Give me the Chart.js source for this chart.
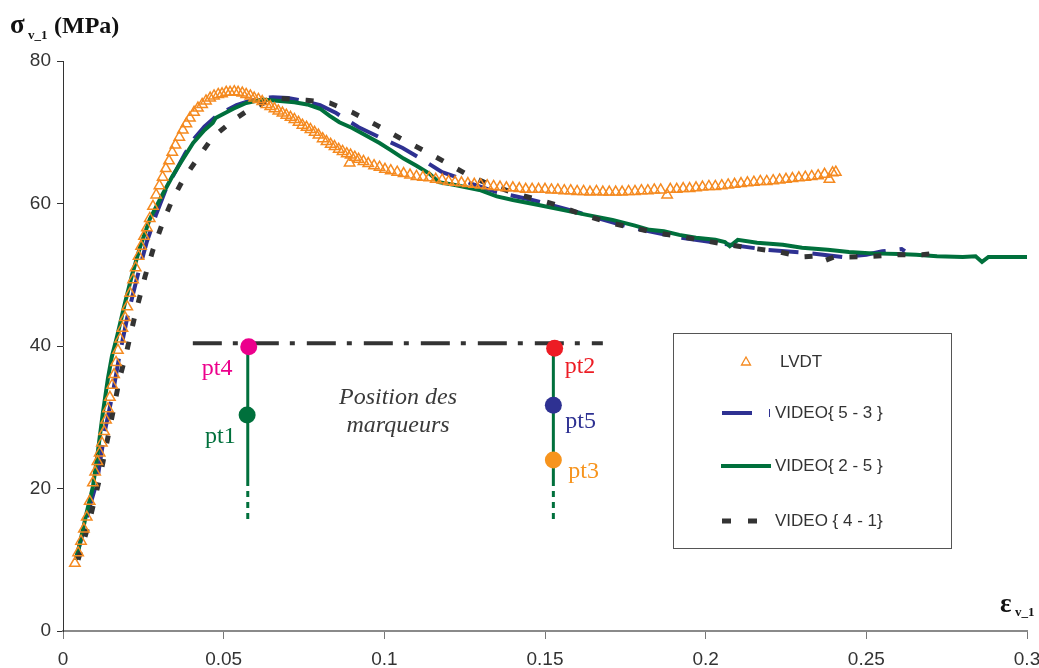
<!DOCTYPE html>
<html>
<head>
<meta charset="utf-8">
<script src="https://cdn.jsdelivr.net/npm/chart.js@4.4.1/dist/chart.umd.min.js"></script>
<style>html,body{margin:0;padding:0;background:#fff;overflow:hidden}</style>
</head>
<body>
<canvas id="chart" width="1039" height="668"></canvas>
<script>
// values
const xTicks = [0, 0.05, 0.1, 0.15, 0.2, 0.25, 0.3];
const xTickLabels = ["0", "0.05", "0.1", "0.15", "0.2", "0.25", "0.3"];
const yTicks = [0, 20, 40, 60, 80];
const legendLabels = ["LVDT", "VIDEO{ 5 - 3 }", "VIDEO{ 2 - 5 }", "VIDEO { 4 - 1}"];

const lvdt = [[0.0037,9.5],[0.0047,11.0],[0.0056,12.6],[0.0065,14.3],[0.0074,16.0],[0.0083,18.2],[0.0093,20.8],[0.0100,22.3],[0.0107,23.8],[0.0114,25.0],[0.0121,26.4],[0.0128,28.0],[0.0134,29.6],[0.0140,31.2],[0.0146,32.8],[0.0153,34.5],[0.0159,36.0],[0.0165,37.7],[0.0171,39.4],[0.0178,41.0],[0.0185,42.5],[0.0193,44.0],[0.0200,45.5],[0.0209,47.4],[0.0218,49.3],[0.0226,51.0],[0.0235,52.6],[0.0243,54.0],[0.0252,55.4],[0.0261,56.6],[0.0270,57.9],[0.0280,59.6],[0.0290,61.2],[0.0300,62.5],[0.0310,63.7],[0.0320,64.9],[0.0330,66.0],[0.0340,67.2],[0.0350,68.2],[0.0362,69.3],[0.0373,70.3],[0.0384,71.2],[0.0395,72.0],[0.0408,72.8],[0.0420,73.4],[0.0433,73.9],[0.0445,74.4],[0.0458,74.8],[0.0470,75.1],[0.0483,75.3],[0.0495,75.4],[0.0508,75.6],[0.0520,75.6],[0.0533,75.7],[0.0545,75.6],[0.0558,75.5],[0.0570,75.3],[0.0583,75.1],[0.0595,74.8],[0.0608,74.6],[0.0620,74.3],[0.0633,73.9],[0.0645,73.6],[0.0658,73.3],[0.0670,73.0],[0.0683,72.7],[0.0695,72.4],[0.0708,72.1],[0.0720,71.8],[0.0733,71.4],[0.0745,71.0],[0.0758,70.7],[0.0770,70.4],[0.0783,70.0],[0.0795,69.6],[0.0808,69.1],[0.0820,68.7],[0.0833,68.3],[0.0845,68.0],[0.0858,67.6],[0.0870,67.3],[0.0883,67.0],[0.0892,65.7],[0.0895,66.8],[0.0908,66.5],[0.0920,66.2],[0.0935,65.9],[0.0950,65.6],[0.0968,65.3],[0.0985,65.1],[0.1002,64.8],[0.1020,64.6],[0.1040,64.4],[0.1060,64.2],[0.1080,64.0],[0.1100,63.8],[0.1120,63.7],[0.1140,63.6],[0.1160,63.4],[0.1180,63.3],[0.1200,63.1],[0.1220,63.0],[0.1240,62.9],[0.1260,62.8],[0.1280,62.7],[0.1300,62.6],[0.1320,62.5],[0.1340,62.4],[0.1360,62.3],[0.1380,62.2],[0.1400,62.2],[0.1420,62.1],[0.1440,62.0],[0.1460,62.0],[0.1480,62.0],[0.1500,62.0],[0.1520,61.9],[0.1540,61.9],[0.1560,61.8],[0.1580,61.8],[0.1600,61.7],[0.1620,61.7],[0.1640,61.6],[0.1660,61.7],[0.1680,61.6],[0.1700,61.6],[0.1720,61.6],[0.1740,61.6],[0.1760,61.7],[0.1780,61.7],[0.1800,61.8],[0.1820,61.8],[0.1840,61.9],[0.1860,61.9],[0.1880,61.2],[0.1890,62.0],[0.1910,62.0],[0.1930,62.1],[0.1950,62.1],[0.1970,62.2],[0.1990,62.3],[0.2010,62.4],[0.2030,62.4],[0.2050,62.5],[0.2070,62.6],[0.2090,62.7],[0.2110,62.8],[0.2130,62.9],[0.2150,63.0],[0.2170,63.1],[0.2190,63.1],[0.2210,63.2],[0.2230,63.3],[0.2250,63.4],[0.2270,63.5],[0.2290,63.6],[0.2310,63.7],[0.2330,63.8],[0.2350,63.9],[0.2370,64.1],[0.2385,63.4],[0.2395,64.3],[0.2405,64.4]];

const video53 = [[0.0040,10.0],[0.0060,13.5],[0.0080,17.0],[0.0106,21.0],[0.0130,28.0],[0.0155,33.4],[0.0175,38.5],[0.0200,44.0],[0.0230,49.5],[0.0260,54.5],[0.0290,58.5],[0.0320,62.0],[0.0350,64.5],[0.0380,67.0],[0.0410,69.2],[0.0440,70.8],[0.0470,72.0],[0.0500,72.9],[0.0540,73.8],[0.0580,74.4],[0.0620,74.8],[0.0653,74.9],[0.0700,74.8],[0.0750,74.4],[0.0800,73.8],[0.0850,72.7],[0.0920,70.7],[0.0985,69.3],[0.1057,67.8],[0.1120,66.1],[0.1180,64.4],[0.1225,63.7],[0.1270,62.8],[0.1350,61.6],[0.1460,60.5],[0.1607,58.7],[0.1760,56.7],[0.1877,55.6],[0.1910,55.3],[0.2030,54.5],[0.2190,53.5],[0.2310,53.1],[0.2425,52.5],[0.2500,52.8],[0.2550,53.3],[0.2610,53.6],[0.2620,53.3]];

const video25 = [[0.0040,10.0],[0.0053,12.4],[0.0073,16.5],[0.0093,20.2],[0.0108,25.0],[0.0124,30.6],[0.0140,35.5],[0.0152,38.5],[0.0168,41.3],[0.0190,45.5],[0.0215,50.0],[0.0240,53.9],[0.0270,57.8],[0.0310,61.3],[0.0340,63.8],[0.0370,66.0],[0.0405,68.5],[0.0440,70.3],[0.0466,71.3],[0.0475,72.0],[0.0500,72.6],[0.0530,73.3],[0.0570,74.1],[0.0620,74.6],[0.0675,74.4],[0.0720,74.2],[0.0760,73.9],[0.0800,73.3],[0.0830,72.3],[0.0860,71.4],[0.0900,70.6],[0.0940,69.6],[0.0985,68.5],[0.1020,67.5],[0.1060,66.3],[0.1100,65.3],[0.1140,64.2],[0.1170,63.0],[0.1220,62.6],[0.1296,61.9],[0.1350,61.0],[0.1400,60.5],[0.1480,59.8],[0.1554,59.1],[0.1630,58.4],[0.1710,57.7],[0.1780,56.9],[0.1825,56.3],[0.1870,56.1],[0.1918,55.6],[0.1970,55.2],[0.2030,54.9],[0.2060,54.6],[0.2075,54.0],[0.2100,54.9],[0.2160,54.5],[0.2240,54.2],[0.2300,53.8],[0.2380,53.5],[0.2446,53.2],[0.2520,53.0],[0.2600,52.9],[0.2655,52.8],[0.2720,52.6],[0.2800,52.5],[0.2840,52.6],[0.2860,51.8],[0.2880,52.5],[0.2950,52.5],[0.3000,52.5]];

const video41 = [[0.0047,10.0],[0.0080,15.0],[0.0115,21.6],[0.0146,28.6],[0.0177,35.6],[0.0199,39.4],[0.0225,44.5],[0.0255,49.7],[0.0280,53.5],[0.0310,57.3],[0.0340,60.5],[0.0373,63.3],[0.0420,66.4],[0.0466,69.3],[0.0530,71.7],[0.0590,73.5],[0.0665,74.8],[0.0758,74.5],[0.0830,74.1],[0.0900,72.8],[0.0976,71.0],[0.1048,69.2],[0.1120,67.5],[0.1190,65.8],[0.1260,64.0],[0.1310,63.0],[0.1400,61.5],[0.1536,59.8],[0.1620,58.4],[0.1700,57.3],[0.1846,55.9],[0.1930,55.3],[0.2070,54.2],[0.2230,53.2],[0.2300,52.5],[0.2340,52.6],[0.2360,51.8],[0.2400,52.5],[0.2446,52.5],[0.2518,52.6],[0.2600,52.8],[0.2673,52.8],[0.2726,53.1]];

// marker sketch (position des marqueurs)
const markerLineY = 40.4;
const markerLineX = [0.0404, 0.168];
const leftColX = 0.0575, rightColX = 0.1526;
const columnSolid = [39.7, 21.2];
const columnDashed = [21.2, 15.6];
const markerNames = ["pt4", "pt1", "pt2", "pt5", "pt3"];
const markerX = [0.0578, 0.0573, 0.1530, 0.1526, 0.1526];
const markerY = [39.9, 30.3, 39.7, 31.7, 24.0];
const markerColors = ["#ec008c", "#00703c", "#ed1c24", "#2e3192", "#f7941d"];

const ORANGE = "#f58a20", BLUE = "#2e3192", GREEN = "#00703c", DARK = "#333333";

const toPts = arr => arr.map(p => ({x: p[0], y: p[1]}));

const datasets = [
    {label: legendLabels[0], data: toPts(lvdt), showLine: false, pointStyle: "triangle",
     pointRadius: 6, borderColor: ORANGE, backgroundColor: "rgba(255,255,255,0)", pointBorderWidth: 1.5, order: 1},
    {label: legendLabels[1], data: toPts(video53), showLine: true, borderColor: BLUE, borderWidth: 4,
     borderDash: [30, 14], pointRadius: 0, order: 4},
    {label: legendLabels[2], data: toPts(video25), showLine: true, borderColor: GREEN, borderWidth: 4,
     pointRadius: 0, order: 3},
    {label: legendLabels[3], data: toPts(video41), showLine: true, borderColor: DARK, borderWidth: 5,
     borderDash: [8, 16], pointRadius: 0, order: 2},
    // sketch lines
    {data: [{x: markerLineX[0], y: markerLineY}, {x: markerLineX[1], y: markerLineY}], showLine: true,
     borderColor: DARK, borderWidth: 4, borderDash: [29, 11, 5, 12], pointRadius: 0, order: 6},
    {data: columnSolid.map(v => ({x: leftColX, y: v})), showLine: true, borderColor: GREEN, borderWidth: 3, pointRadius: 0, order: 6},
    {data: columnDashed.map(v => ({x: leftColX, y: v})), showLine: true, borderColor: GREEN, borderWidth: 3, borderDash: [6, 5], pointRadius: 0, order: 6},
    {data: columnSolid.map(v => ({x: rightColX, y: v})), showLine: true, borderColor: GREEN, borderWidth: 3, pointRadius: 0, order: 6},
    {data: columnDashed.map(v => ({x: rightColX, y: v})), showLine: true, borderColor: GREEN, borderWidth: 3, borderDash: [6, 5], pointRadius: 0, order: 6},
    {data: markerX.map((x, i) => ({x: x, y: markerY[i]})), showLine: false, pointRadius: 8.5, pointStyle: "circle",
     pointBackgroundColor: markerColors, pointBorderColor: markerColors, pointBorderWidth: 0, order: 5}
];

const decorPlugin = {
    id: "decor",
    afterDraw(chart) {
        const ctx = chart.ctx;
        const xs = chart.scales.x, ys = chart.scales.y;
        ctx.save();
        // axis titles
        ctx.fillStyle = "#111";
        ctx.textBaseline = "alphabetic";
        ctx.textAlign = "left";
        ctx.font = "bold 27px 'Liberation Serif'";
        ctx.fillText("σ", 10, 33);
        ctx.font = "bold 13px 'Liberation Serif'";
        ctx.fillText("v_1", 28, 39);
        ctx.font = "bold 24px 'Liberation Serif'";
        ctx.fillText("(MPa)", 54, 33);
        ctx.font = "bold 27px 'Liberation Serif'";
        ctx.fillText("ε", 1000, 612);
        ctx.font = "bold 13px 'Liberation Serif'";
        ctx.fillText("v_1", 1015, 616);

        // marker labels, offsets from each dot
        ctx.font = "24px 'Liberation Serif'";
        const offs = [[-47, 28], [-42, 28], [10, 25], [12, 23], [15, 18]];
        markerNames.forEach((n, i) => {
            ctx.fillStyle = markerColors[i];
            ctx.fillText(n, xs.getPixelForValue(markerX[i]) + offs[i][0], ys.getPixelForValue(markerY[i]) + offs[i][1]);
        });
        ctx.fillStyle = "#3a3a3a";
        ctx.font = "italic 24px 'Liberation Serif'";
        ctx.textAlign = "center";
        ctx.fillText("Position des", 398, 404);
        ctx.fillText("marqueurs", 398, 432);

        // legend box
        ctx.textAlign = "left";
        ctx.strokeStyle = "#555";
        ctx.lineWidth = 1;
        ctx.strokeRect(673.5, 333.5, 278, 215);
        ctx.font = "17px 'Liberation Sans'";
        ctx.fillStyle = "#333";
        ctx.textBaseline = "middle";
        const rowY = [362, 413, 466, 521];
        legendLabels.forEach((t, i) => ctx.fillText(t, i === 0 ? 780 : 775, rowY[i]));
        // LVDT symbol
        ctx.strokeStyle = ORANGE; ctx.lineWidth = 1.3;
        ctx.beginPath(); ctx.moveTo(746, 357); ctx.lineTo(750.5, 365); ctx.lineTo(741.5, 365); ctx.closePath(); ctx.stroke();
        // 5-3
        ctx.strokeStyle = BLUE; ctx.lineWidth = 4;
        ctx.beginPath(); ctx.moveTo(722, 413); ctx.lineTo(752, 413); ctx.stroke();
        ctx.lineWidth = 1;
        ctx.beginPath(); ctx.moveTo(769.5, 409); ctx.lineTo(769.5, 417); ctx.stroke();
        // 2-5
        ctx.strokeStyle = GREEN; ctx.lineWidth = 4;
        ctx.beginPath(); ctx.moveTo(721, 466); ctx.lineTo(771, 466); ctx.stroke();
        // 4-1
        ctx.strokeStyle = DARK; ctx.lineWidth = 5;
        ctx.beginPath(); ctx.moveTo(722, 521); ctx.lineTo(731, 521); ctx.moveTo(748, 521); ctx.lineTo(757, 521); ctx.stroke();
        ctx.restore();
    }
};

new Chart(document.getElementById("chart"), {
    type: "scatter",
    data: {datasets: datasets},
    options: {
        responsive: false,
        animation: false,
        layout: {padding: {top: 61, right: 12, left: 0, bottom: 0}},
        plugins: {legend: {display: false}, tooltip: {enabled: false}},
        scales: {
            x: {
                type: "linear", min: 0, max: 0.3,
                afterBuildTicks: s => { s.ticks = xTicks.map(v => ({value: v})); },
                afterFit: s => { s.height = 37; s.paddingLeft = 0; s.paddingRight = 0; },
                ticks: {
                    color: "#333", font: {family: "'Liberation Sans'", size: 19}, padding: 9, maxRotation: 0,
                    callback: (v) => xTickLabels[xTicks.indexOf(v)] ?? ""
                },
                grid: {drawOnChartArea: false, tickLength: 8, tickColor: "#777", tickWidth: 1},
                border: {color: "#8a8a8a", width: 2}
            },
            y: {
                type: "linear", min: 0, max: 80,
                afterBuildTicks: s => { s.ticks = yTicks.map(v => ({value: v})); },
                afterFit: s => { s.width = 63; s.paddingTop = 0; s.paddingBottom = 0; },
                ticks: {color: "#333", font: {family: "'Liberation Sans'", size: 19}, padding: 6},
                grid: {drawOnChartArea: false, tickLength: 6, tickColor: "#333", tickWidth: 1},
                border: {color: "#333", width: 1}
            }
        }
    },
    plugins: [decorPlugin]
});
</script>
</body>
</html>
